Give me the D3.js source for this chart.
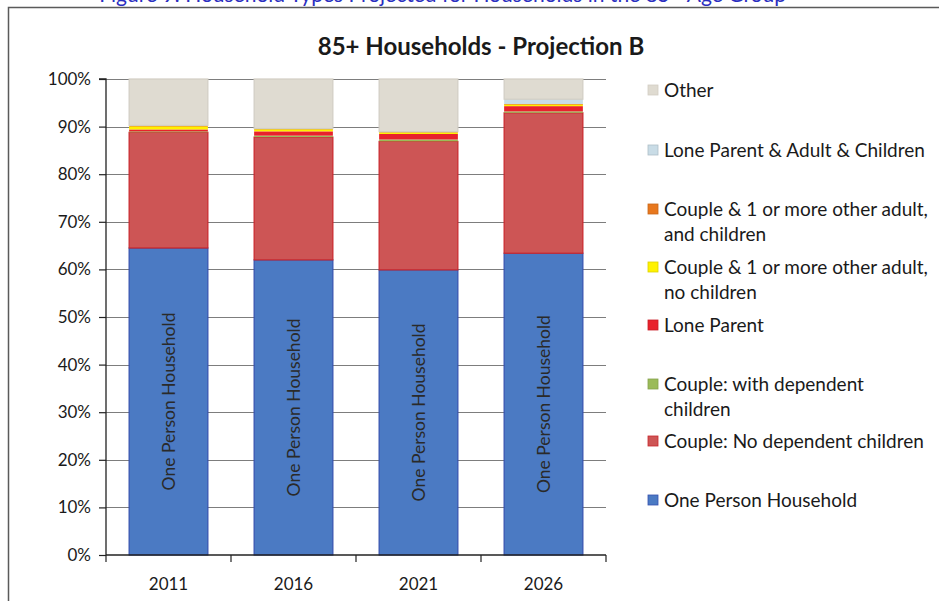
<!DOCTYPE html>
<html>
<head>
<meta charset="utf-8">
<script src="https://cdn.jsdelivr.net/npm/d3@7/dist/d3.min.js"></script>
<style>
  html, body { margin: 0; padding: 0; background: #ffffff; }
  svg { display: block; }
  text { font-family: Lato, "Noto Sans", sans-serif; fill: #1a1a1a; }
</style>
</head>
<body>
<div id="chart"></div>
<script>
// Years shown along the x axis
const years = ["2011", "2016", "2021", "2026"];

// Household types, bottom of the stack first
const seriesNames = [
  "One Person Household",
  "Couple: No dependent children",
  "Couple: with dependent children",
  "Lone Parent",
  "Couple & 1 or more other adult, no children",
  "Couple & 1 or more other adult, and children",
  "Lone Parent & Adult & Children",
  "Other"
];

// Share of 85+ households (%) per year, one array per household type
const onePerson        = [64.5, 62.0, 59.9, 63.4];
const coupleNoDep      = [24.3, 25.8, 27.0, 29.5];
const coupleWithDep    = [0.2, 0.3, 0.4, 0.3];
const loneParent       = [0.4, 0.9, 1.15, 1.1];
const coupleAdultNoCh  = [0.7, 0.5, 0.4, 0.4];
const coupleAdultCh    = [0.05, 0.05, 0.05, 0.05];
const loneParentAdult  = [0.1, 0.05, 0.05, 1.0];
const other            = [9.75, 10.4, 11.05, 4.25];

// Y axis tick values (%)
const yTicks = [0, 10, 20, 30, 40, 50, 60, 70, 80, 90, 100];

// Legend rows, top to bottom (labels may wrap onto two lines)
const legendRows = [
  { key: "Other", lines: ["Other"] },
  { key: "Lone Parent & Adult & Children", lines: ["Lone Parent & Adult & Children"] },
  { key: "Couple & 1 or more other adult, and children", lines: ["Couple & 1 or more other adult,", "and children"] },
  { key: "Couple & 1 or more other adult, no children", lines: ["Couple & 1 or more other adult,", "no children"] },
  { key: "Lone Parent", lines: ["Lone Parent"] },
  { key: "Couple: with dependent children", lines: ["Couple: with dependent", "children"] },
  { key: "Couple: No dependent children", lines: ["Couple: No dependent children"] },
  { key: "One Person Household", lines: ["One Person Household"] }
];

const seriesValues = [onePerson, coupleNoDep, coupleWithDep, loneParent,
                      coupleAdultNoCh, coupleAdultCh, loneParentAdult, other];

const fills = {
  "One Person Household": "#4b7ac3",
  "Couple: No dependent children": "#cd5555",
  "Couple: with dependent children": "#9bbb59",
  "Lone Parent": "#e8222c",
  "Couple & 1 or more other adult, no children": "#fff200",
  "Couple & 1 or more other adult, and children": "#e8781e",
  "Lone Parent & Adult & Children": "#c9dce6",
  "Other": "#dfdbd1"
};
const strokes = {
  "One Person Household": "#3550ae",
  "Couple: No dependent children": "#c9262c",
  "Other": "#d2cec4"
};

const table = years.map((y, i) => {
  const row = { year: y };
  seriesNames.forEach((s, j) => { row[s] = seriesValues[j][i]; });
  return row;
});

const W = 939, H = 601;
const margin = { left: 106, right: 333, top: 79, bottom: 46 };

const svg = d3.select("#chart").append("svg")
  .attr("width", W).attr("height", H);

// heading line of the page above the chart frame (only its lower part is visible)
svg.append("text")
  .attr("x", 786).attr("y", 2)
  .attr("text-anchor", "end")
  .style("font-size", "21px")
  .style("fill", "#2a2ec0")
  .text("Figure 9: Household Types Projected for Households in the 85+ Age Group");

// chart frame
svg.append("rect")
  .attr("x", 8.5).attr("y", 7.5)
  .attr("width", W + 10).attr("height", H + 10)
  .attr("fill", "none")
  .attr("stroke", "#5a5a5a")
  .attr("stroke-width", 1.5);

// title
svg.append("text")
  .attr("x", 481).attr("y", 55)
  .attr("text-anchor", "middle")
  .style("font-size", "24px")
  .style("font-weight", "bold")
  .text("85+ Households - Projection B");

const x = d3.scaleBand()
  .domain(years)
  .range([margin.left, W - margin.right])
  .paddingInner(0.37)
  .paddingOuter(0.185);

const y = d3.scaleLinear()
  .domain([0, 100])
  .range([H - margin.bottom, margin.top]);

// horizontal gridlines
svg.append("g")
  .selectAll("line")
  .data(yTicks.filter(t => t > 0))
  .join("line")
  .attr("x1", margin.left).attr("x2", W - margin.right)
  .attr("y1", d => Math.round(y(d)) + 0.5).attr("y2", d => Math.round(y(d)) + 0.5)
  .attr("stroke", "#7d7d7d")
  .attr("stroke-width", 1);

// stacked bars
const stack = d3.stack().keys(seriesNames);
const layers = stack(table);

const gBars = svg.append("g");
layers.forEach(layer => {
  gBars.append("g")
    .selectAll("rect")
    .data(layer)
    .join("rect")
    .attr("x", d => x(d.data.year))
    .attr("width", x.bandwidth())
    .attr("y", d => y(d[1]))
    .attr("height", d => Math.max(0.6, y(d[0]) - y(d[1])))
    .attr("fill", fills[layer.key])
    .attr("stroke", strokes[layer.key] || "none")
    .attr("stroke-width", strokes[layer.key] ? 1.2 : 0);
});

// labels inside the one-person segments
const onePersonLayer = layers[0];
svg.append("g")
  .selectAll("text")
  .data(onePersonLayer)
  .join("text")
  .attr("transform", d => {
    const cx = x(d.data.year) + x.bandwidth() / 2;
    const cy = (y(d[0]) + y(d[1])) / 2;
    return `translate(${cx},${cy}) rotate(-90)`;
  })
  .attr("text-anchor", "middle")
  .attr("dy", "0.35em")
  .style("font-size", "17.5px")
  .style("fill", "#2a2a2a")
  .text("One Person Household");

// y axis
const yAxis = d3.axisLeft(y)
  .tickValues(yTicks)
  .tickFormat(d => d + "%")
  .tickSize(7)
  .tickPadding(8);
const gy = svg.append("g")
  .attr("transform", `translate(${margin.left},0)`)
  .call(yAxis);
gy.select(".domain").attr("stroke", "#222").attr("stroke-width", 1.3).attr("d", `M-7,${y(100)}H0V${y(0)}`);
gy.selectAll(".tick line").attr("stroke", "#222").attr("stroke-width", 1.2);
gy.selectAll(".tick text")
  .style("font-size", "17px")
  .style("font-family", "Lato, 'Noto Sans', sans-serif")
  .attr("fill", "#1a1a1a");

// x axis with ticks between categories
const gx = svg.append("g")
  .attr("transform", `translate(0,${y(0)})`);
gx.append("line")
  .attr("x1", margin.left).attr("x2", W - margin.right)
  .attr("y1", 0).attr("y2", 0)
  .attr("stroke", "#222").attr("stroke-width", 1.3);
const boundaries = d3.range(years.length + 1).map(i => margin.left + i * (W - margin.right - margin.left) / years.length);
gx.selectAll("line.tk")
  .data(boundaries)
  .join("line")
  .attr("class", "tk")
  .attr("x1", d => d).attr("x2", d => d)
  .attr("y1", 0).attr("y2", 7)
  .attr("stroke", "#222").attr("stroke-width", 1.2);
gx.selectAll("text")
  .data(years)
  .join("text")
  .attr("x", d => x(d) + x.bandwidth() / 2)
  .attr("y", 35)
  .attr("text-anchor", "middle")
  .style("font-size", "17px")
  .text(d => d);

// legend
const legendY = [90, 150, 209, 267, 325, 384, 441, 500];
const lg = svg.append("g");
legendRows.forEach((row, i) => {
  const g = lg.append("g").attr("transform", `translate(648,${legendY[i]})`);
  g.append("rect")
    .attr("x", 0).attr("y", -5)
    .attr("width", 10).attr("height", 10)
    .attr("fill", fills[row.key])
    .attr("stroke", strokes[row.key] || d3.color(fills[row.key]).darker(0.4))
    .attr("stroke-width", 0.8);
  row.lines.forEach((ln, k) => {
    g.append("text")
      .attr("x", 16)
      .attr("y", k * 25)
      .attr("dy", "0.35em")
      .style("font-size", "19px")
      .text(ln);
  });
});
</script>
</body>
</html>
